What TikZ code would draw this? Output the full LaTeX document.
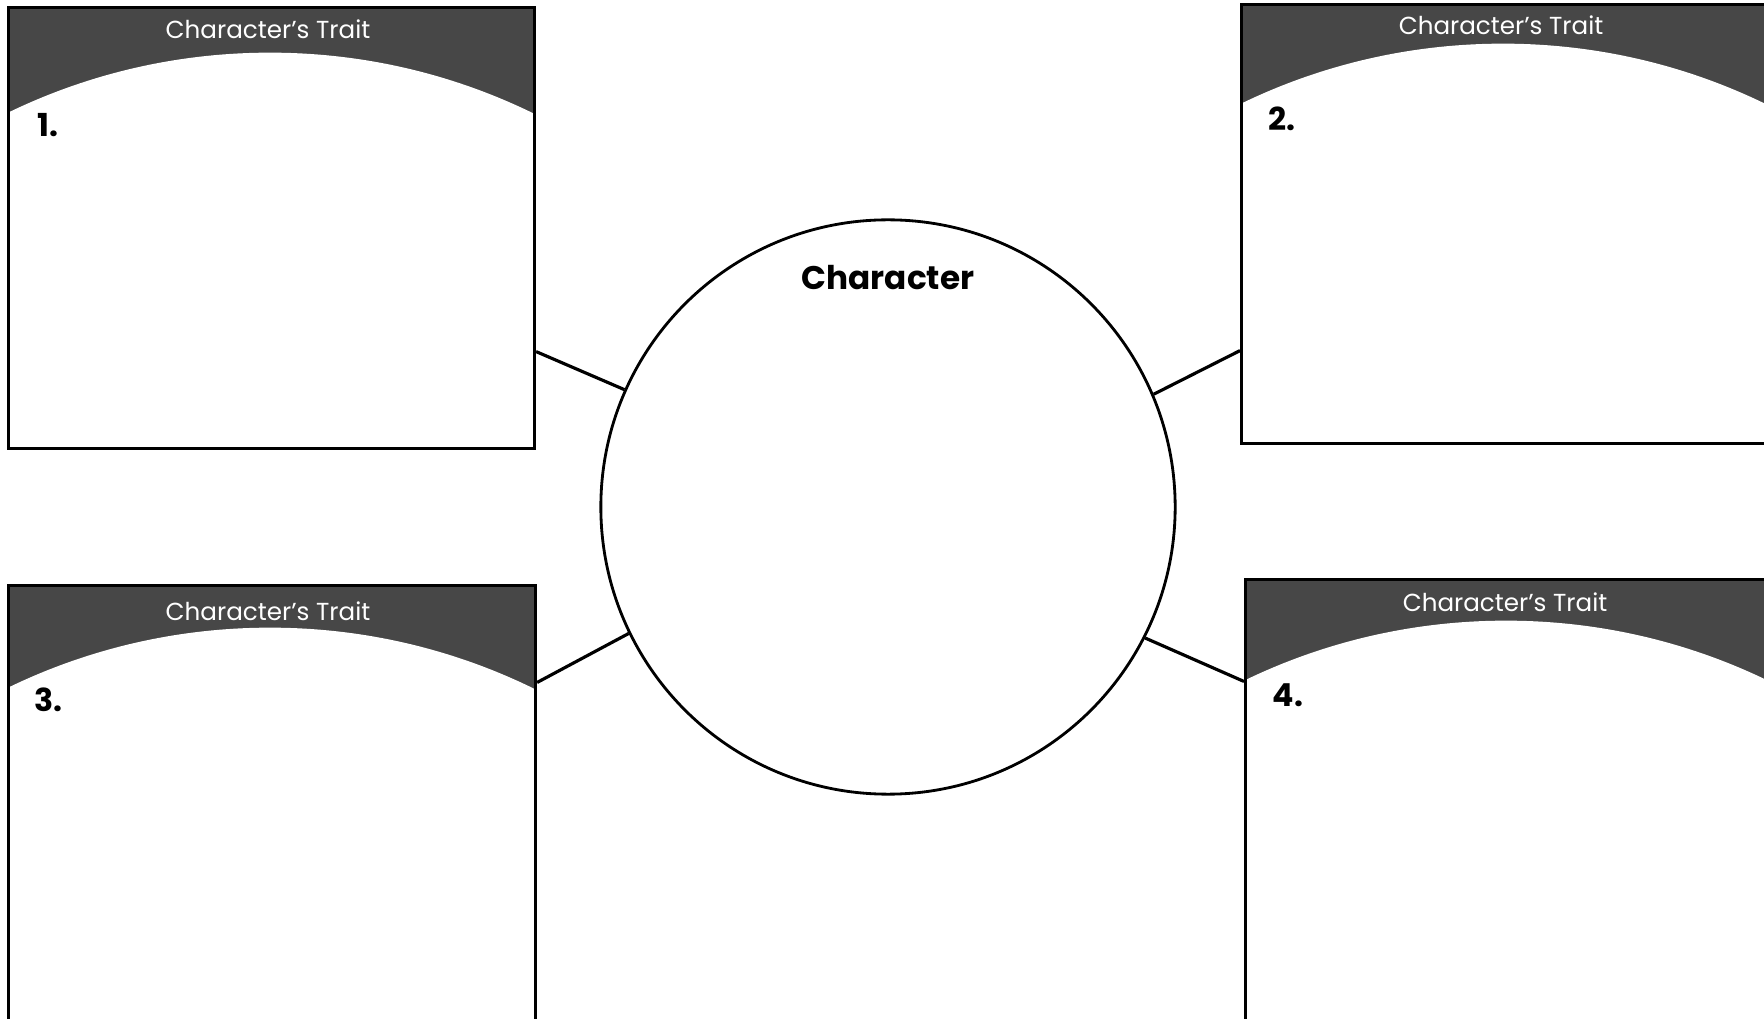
\documentclass[tikz,border=0pt]{standalone}
\usepackage{fontspec}
\setmainfont{Poppins}
\usepackage{tikz}
\usetikzlibrary{positioning}

\tikzset{
  traitbox/.style={draw=black, line width=0.8pt, rectangle, inner sep=0pt, anchor=north west},
  traithead/.style={fill=black!72},
  traittitle/.style={text=white, inner sep=0pt, font=\fontsize{7}{8}\selectfont},
  traitnum/.style={anchor=west, inner sep=0pt, font=\bfseries\fontsize{9}{10}\selectfont},
  spoke/.style={draw=black, line width=0.9pt}
}

\begin{document}
\begin{tikzpicture}[x=0.01cm, y=-0.01cm]
  \useasboundingbox (0,0) rectangle (1764,1019);
  \clip (0,0) rectangle (1764,1019);

  % Headers
  \begin{scope}
    \clip (7,6) rectangle (533,447);
    \fill[traithead] (7,6) rectangle (533,125);
    \fill[white] (270,653) circle[radius=6.0cm];
  \end{scope}
  \begin{scope}
    \clip (1240,3) rectangle (1766,442);
    \fill[traithead] (1240,3) rectangle (1766,115);
    \fill[white] (1503,644) circle[radius=6.0cm];
  \end{scope}
  \begin{scope}
    \clip (7,584) rectangle (534,1044);
    \fill[traithead] (7,584) rectangle (534,700);
    \fill[white] (270,1228) circle[radius=6.0cm];
  \end{scope}
  \begin{scope}
    \clip (1244,578) rectangle (1768,1038);
    \fill[traithead] (1244,578) rectangle (1768,695);
    \fill[white] (1506,1221) circle[radius=6.0cm];
  \end{scope}

  % Nodes
  \node[traitbox, minimum width=5.26cm, minimum height=4.41cm] (box1) at (7,6) {};
  \node[traitbox, minimum width=5.26cm, minimum height=4.39cm] (box2) at (1240,3) {};
  \node[traitbox, minimum width=5.27cm, minimum height=4.6cm] (box3) at (7,584) {};
  \node[traitbox, minimum width=5.24cm, minimum height=4.6cm] (box4) at (1244,578) {};
  \node[draw, circle, line width=0.8pt, minimum size=5.74cm, inner sep=0pt] (char) at (888,507) {};

  % Labels
  \node[inner sep=0pt, below=0.46cm of char.north, font=\bfseries\fontsize{9.3}{11}\selectfont] (charname) {Character};
  \node[traittitle] (title1) at (268,29) {Character's Trait};
  \node[traittitle] (title2) at (1501,25) {Character's Trait};
  \node[traittitle] (title3) at (268,611) {Character's Trait};
  \node[traittitle] (title4) at (1505,602) {Character's Trait};
  \node[traitnum] (num1) at (37,125) {1.};
  \node[traitnum] (num2) at (1268,119) {2.};
  \node[traitnum] (num3) at (34,700) {3.};
  \node[traitnum] (num4) at (1272,695) {4.};

  % Spokes
  \draw[spoke] (char.156.4) -- ([yshift=-1.235cm]box1.east);
  \draw[spoke] (char.23.8) -- ([yshift=-1.265cm]box2.west);
  \draw[spoke] (char.206.7) -- ([yshift=1.33cm]box3.east);
  \draw[spoke] (char.333.5) -- ([yshift=1.28cm]box4.west);
\end{tikzpicture}
\end{document}
